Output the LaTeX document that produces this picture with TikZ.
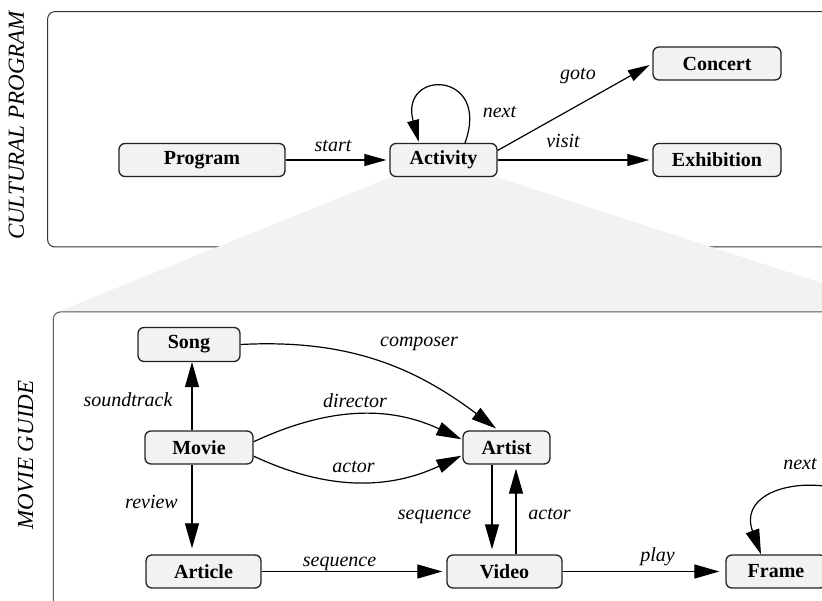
\documentclass[tikz,border=0pt]{standalone}
\usepackage{fontspec}
\setmainfont{Liberation Serif}
\usetikzlibrary{arrows.meta,calc,backgrounds}
\definecolor{boxfill}{HTML}{F2F2F2}
\definecolor{zoomfill}{HTML}{F2F2F2}
\definecolor{boxline}{HTML}{222222}
\begin{document}
\begin{tikzpicture}[x=1pt,y=1pt,
  concept/.style={draw=boxline,fill=boxfill,line width=1.3pt,rounded corners=6pt,
    minimum height=33pt,inner sep=0pt,font=\fontsize{20}{24}\selectfont\bfseries},
  rel/.style={font=\fontsize{20}{24}\selectfont\itshape,anchor=base,inner sep=0pt},
  title/.style={font=\fontsize{23}{27}\selectfont\itshape,anchor=base,inner sep=0pt,rotate=90},
  arrT/.style={line width=1.2pt,-{Triangle[length=22pt,width=12pt]},shorten >=3pt},
  arrB/.style={line width=1.2pt,-{Triangle[length=25pt,width=14pt]},shorten >=4pt},
  panel/.style={line width=1pt,rounded corners=7pt}]
\useasboundingbox (0,0) rectangle (822,600);
\clip (0,0) rectangle (822,600);

% panel titles
\node[title] (t1) at (24,474.5) {CULTURAL PROGRAM};
\node[title] (t2) at (33,145) {MOVIE GUIDE};

% upper graph
\node[concept,minimum width=166pt] (prog) at (202,440) {Program};
\node[concept,minimum width=107pt] (act)  at (443.5,440) {Activity};
\node[concept,minimum width=128pt] (conc) at (717,536.5) {Concert};
\node[concept,minimum width=128pt] (exh)  at (717,440) {Exhibition};

% upper panel, then the zoom wedge from Activity down to the lower panel
\begin{scope}[on background layer]
\draw[panel,draw=black!80] (47.7,588.3) rectangle (900,353);
\fill[zoomfill] ([xshift=1pt]act.south west) -- ([xshift=-1pt]act.south east) -- (911,288) -- (57,288) -- cycle;
\end{scope}

\draw[arrT] (prog.east) -- (act.west);
\draw[arrT] (act.10) -- (conc.west);
\draw[arrT] (act.east) -- (exh.west);
\draw[arrT,shorten >=1pt] ([xshift=21.5pt]act.north) to[out=70,in=105,distance=77pt] ([xshift=-24.5pt]act.north);

\node[rel] (lstart) at (333,448) {start};
\node[rel] (lnext1) at (499.5,482) {next};
\node[rel] (lgoto)  at (578,520) {goto};
\node[rel] (lvisit) at (563,452) {visit};

% lower panel
\draw[panel,draw=black!65,fill=white] (53.3,288) rectangle (900,-60);

% lower graph
\node[concept,minimum width=102pt,minimum height=34pt] (song) at (189,255.5) {Song};
\node[concept,minimum width=108pt] (movie)   at (199,152.5) {Movie};
\node[concept,minimum width=115pt] (article) at (203.5,28.5) {Article};
\node[concept,minimum width=87pt]  (artist)  at (506.5,152.5) {Artist};
\node[concept,minimum width=115pt] (video)   at (504.5,28.5) {Video};
\node[concept,minimum width=100pt] (frame)   at (776,28.5) {Frame};
\coordinate (frloop) at (879,45);

\draw[arrB,shorten >=0pt] ([xshift=-7pt]movie.north) -- ([xshift=-7pt]movie.north |- song.south);
\draw[arrB,shorten >=6pt] ([xshift=-7pt]movie.south) -- ([xshift=-7pt]movie.south |- article.north);
\draw[arrB,shorten >=3pt] (song.east) to[out=3,in=143] ([xshift=-8pt]artist.north);
\draw[arrB,shorten >=1pt] (movie.6) to[out=25,in=155] (artist.170);
\draw[arrB,shorten >=1pt] (movie.-9) to[out=-25,in=-155] (artist.190);
\draw[arrB] (article.east) -- (video.west);
\draw[arrB,shorten >=5pt] ([xshift=-14.5pt]artist.south) -- ([xshift=-14.5pt]artist.south |- video.north);
\draw[arrB] ([xshift=11.5pt]video.north) -- ([xshift=11.5pt]video.north |- artist.south);
\draw[arrB,shorten >=6pt] (video.east) -- (frame.west);
\draw[arrB,shorten >=0pt] (frloop) to[out=70,in=110,distance=94pt] ([xshift=-15pt]frame.north);

\node[rel] (lcomp)  at (419,253) {composer};
\node[rel] (lsound) at (128,193) {soundtrack};
\node[rel] (ldir)   at (355,192) {director};
\node[rel] (lact1)  at (353.5,127) {actor};
\node[rel] (lrev)   at (151.5,92) {review};
\node[rel] (lseq1)  at (339.5,34) {sequence};
\node[rel] (lseq2)  at (434.5,81) {sequence};
\node[rel] (lact2)  at (549.5,81) {actor};
\node[rel] (lplay)  at (657.5,38.4) {play};
\node[rel] (lnext2) at (800,130) {next};
\end{tikzpicture}
\end{document}
